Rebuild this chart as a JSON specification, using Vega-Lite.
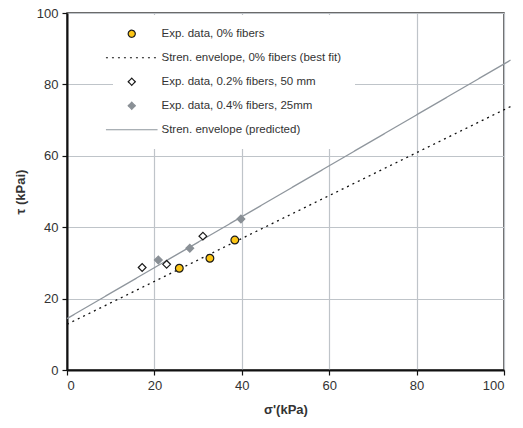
{
  "$schema": "https://vega.github.io/schema/vega-lite/v6.json",
  "width": 437,
  "height": 357,
  "autosize": "none",
  "padding": {"left": 67, "top": 13, "right": 19, "bottom": 58},
  "background": "white",
  "config": {
    "view": {"stroke": "#3a3a3a", "strokeWidth": 1.5},
    "font": "Liberation Sans",
    "axis": {
      "domainColor": "#111",
      "domainWidth": 2,
      "tickColor": "#111",
      "tickSize": 5,
      "tickWidth": 1.2,
      "labelFont": "Liberation Sans",
      "labelFontSize": 13,
      "labelColor": "#333",
      "titleFont": "Liberation Sans",
      "titleFontSize": 13,
      "titleFontWeight": "bold",
      "titleColor": "#333",
      "gridColor": "#bfc4c9",
      "gridWidth": 1.2
    }
  },
  "datasets": {
    "points": [
      {"s": 25.7, "t": 28.5, "series": "Exp. data, 0% fibers"},
      {"s": 32.7, "t": 31.3, "series": "Exp. data, 0% fibers"},
      {"s": 38.4, "t": 36.4, "series": "Exp. data, 0% fibers"},
      {"s": 17.2, "t": 28.7, "series": "Exp. data, 0.2% fibers, 50 mm"},
      {"s": 22.8, "t": 29.6, "series": "Exp. data, 0.2% fibers, 50 mm"},
      {"s": 31.1, "t": 37.5, "series": "Exp. data, 0.2% fibers, 50 mm"},
      {"s": 20.9, "t": 30.8, "series": "Exp. data, 0.4% fibers, 25mm"},
      {"s": 28.1, "t": 34.1, "series": "Exp. data, 0.4% fibers, 25mm"},
      {"s": 39.8, "t": 42.3, "series": "Exp. data, 0.4% fibers, 25mm"}
    ],
    "lines": [
      {"s": 0, "t": 12.8, "series": "Stren. envelope, 0% fibers (best fit)"},
      {"s": 101.5, "t": 73.8, "series": "Stren. envelope, 0% fibers (best fit)"},
      {"s": 0, "t": 14.4, "series": "Stren. envelope (predicted)"},
      {"s": 101.5, "t": 86.8, "series": "Stren. envelope (predicted)"}
    ]
  },
  "layer": [
    {
      "data": {"name": "lines"},
      "mark": {"type": "line", "strokeWidth": 1.3},
      "encoding": {
        "x": {"field": "s", "type": "quantitative", "scale": {"domain": [0, 100], "nice": false},
              "axis": {"values": [0, 20, 40, 60, 80, 100], "title": "σ'(kPa)", "labelPadding": 4, "titlePadding": 11}},
        "y": {"field": "t", "type": "quantitative", "scale": {"domain": [0, 100], "nice": false},
              "axis": {"values": [0, 20, 40, 60, 80, 100], "title": "τ (kPai)", "labelPadding": 4, "titlePadding": 9}},
        "stroke": {
          "field": "series", "type": "nominal",
          "scale": {
            "domain": ["Exp. data, 0% fibers", "Stren. envelope, 0% fibers (best fit)", "Exp. data, 0.2% fibers, 50 mm", "Exp. data, 0.4% fibers, 25mm", "Stren. envelope (predicted)"],
            "range": ["#1a1a1a", "#111111", "#1a1a1a", "#8a9096", "#8f969d"]
          },
          "legend": {"title": null, "orient": "none", "legendX": 46, "legendY": 2, "fillColor": "white", "padding": 13, "labelOffset": 24, "rowPadding": 11, "symbolSize": 50, "symbolStrokeWidth": 1.2, "labelFont": "Liberation Sans", "labelFontSize": 11.5, "labelColor": "#333", "labelLimit": 400}
        },
        "strokeDash": {
          "field": "series", "type": "nominal",
          "scale": {
            "domain": ["Exp. data, 0% fibers", "Stren. envelope, 0% fibers (best fit)", "Exp. data, 0.2% fibers, 50 mm", "Exp. data, 0.4% fibers, 25mm", "Stren. envelope (predicted)"],
            "range": [[1, 0], [2, 4], [1, 0], [1, 0], [1, 0]]
          },
          "legend": {"title": null, "orient": "none", "legendX": 46, "legendY": 2, "fillColor": "white", "padding": 13, "labelOffset": 24, "rowPadding": 11, "symbolSize": 50, "symbolStrokeWidth": 1.2, "labelFont": "Liberation Sans", "labelFontSize": 11.5, "labelColor": "#333", "labelLimit": 400}
        }
      }
    },
    {
      "data": {"name": "points"},
      "mark": {"type": "point", "filled": true, "size": 60, "strokeWidth": 1.2, "opacity": 1},
      "encoding": {
        "x": {"field": "s", "type": "quantitative"},
        "y": {"field": "t", "type": "quantitative"},
        "shape": {
          "field": "series", "type": "nominal",
          "scale": {
            "domain": ["Exp. data, 0% fibers", "Stren. envelope, 0% fibers (best fit)", "Exp. data, 0.2% fibers, 50 mm", "Exp. data, 0.4% fibers, 25mm", "Stren. envelope (predicted)"],
            "range": ["circle", "M-7.3,0H7.3", "diamond", "diamond", "M-7.3,0H7.3"]
          },
          "legend": {"title": null, "orient": "none", "legendX": 46, "legendY": 2, "fillColor": "white", "padding": 13, "labelOffset": 24, "rowPadding": 11, "symbolSize": 50, "symbolStrokeWidth": 1.2, "labelFont": "Liberation Sans", "labelFontSize": 11.5, "labelColor": "#333", "labelLimit": 400}
        },
        "fill": {
          "field": "series", "type": "nominal",
          "scale": {
            "domain": ["Exp. data, 0% fibers", "Stren. envelope, 0% fibers (best fit)", "Exp. data, 0.2% fibers, 50 mm", "Exp. data, 0.4% fibers, 25mm", "Stren. envelope (predicted)"],
            "range": ["#fcc515", "transparent", "white", "#8a9096", "transparent"]
          },
          "legend": {"title": null, "orient": "none", "legendX": 46, "legendY": 2, "fillColor": "white", "padding": 13, "labelOffset": 24, "rowPadding": 11, "symbolSize": 50, "symbolStrokeWidth": 1.2, "labelFont": "Liberation Sans", "labelFontSize": 11.5, "labelColor": "#333", "labelLimit": 400}
        },
        "stroke": {"field": "series", "type": "nominal"}
      }
    }
  ]
}
